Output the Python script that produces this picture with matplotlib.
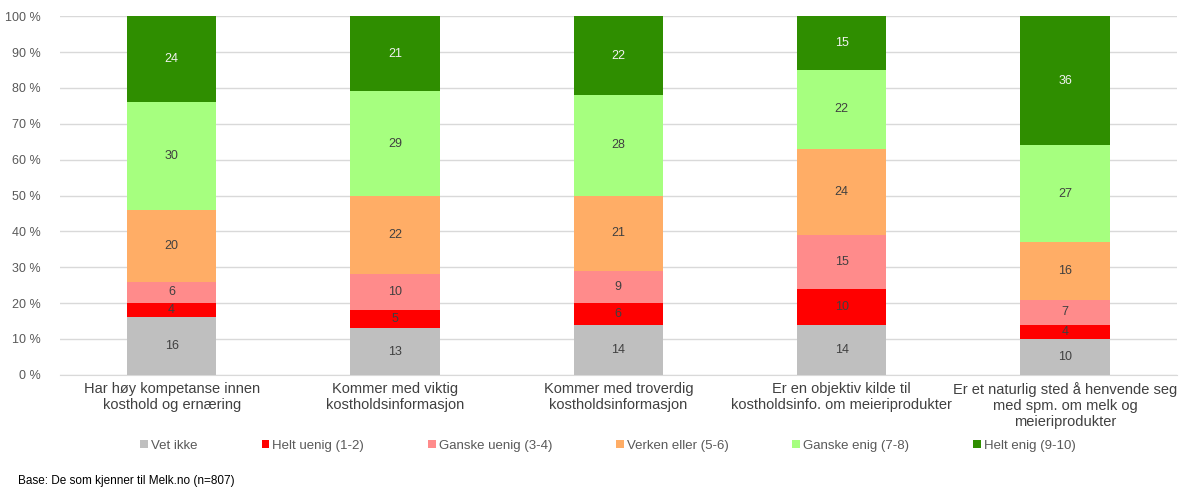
import numpy as np
import matplotlib.pyplot as plt
from matplotlib.patches import Patch

plt.rcParams['font.family'] = ['Liberation Sans', 'DejaVu Sans']

categories = [
    'Har høy kompetanse innen\nkosthold og ernæring',
    'Kommer med viktig\nkostholdsinformasjon',
    'Kommer med troverdig\nkostholdsinformasjon',
    'Er en objektiv kilde til\nkostholdsinfo. om meieriprodukter',
    'Er et naturlig sted å henvende seg\nmed spm. om melk og\nmeieriprodukter',
]
series_names = ['Vet ikke', 'Helt uenig (1-2)', 'Ganske uenig (3-4)',
                'Verken eller (5-6)', 'Ganske enig (7-8)', 'Helt enig (9-10)']
vet_ikke = [16, 13, 14, 14, 10]
helt_uenig = [4, 5, 6, 10, 4]
ganske_uenig = [6, 10, 9, 15, 7]
verken_eller = [20, 22, 21, 24, 16]
ganske_enig = [30, 29, 28, 22, 27]
helt_enig = [24, 21, 22, 15, 36]

colors = ['#BFBFBF', '#FF0000', '#FF8B8B', '#FFAD66', '#A6FF7F', '#2F8E00']

fig = plt.figure(figsize=(11.85, 4.9), dpi=100)
ax = fig.add_axes([0.0506, 0.235, 0.9424, 0.732])

x = np.arange(len(categories))
bottom = np.zeros(len(categories))
for name, vals, col in zip(series_names,
                           [vet_ikke, helt_uenig, ganske_uenig, verken_eller, ganske_enig, helt_enig],
                           colors):
    bars = ax.bar(x, vals, width=0.4, bottom=bottom, color=col, label=name, zorder=3)
    txt_col = '#F2F2F2' if col == colors[-1] else '#404040'
    ax.bar_label(bars, labels=[str(v) for v in vals], label_type='center',
                 fontsize=9, color=txt_col)
    bottom += np.array(vals)

ax.set_xlim(-0.5, 4.5)
ax.set_ylim(0, 100)
ax.set_yticks(np.arange(0, 101, 10))
ax.set_yticklabels([f'{v} %' for v in range(0, 101, 10)], fontsize=9, color='#595959')
ax.set_xticks(x)
ax.set_xticklabels(categories, fontsize=10.5, color='#404040', linespacing=1.2)
ax.tick_params(axis='both', length=0)
ax.tick_params(axis='y', pad=14)
ax.tick_params(axis='x', pad=5)
ax.grid(axis='y', color='#D9D9D9', linewidth=1, zorder=0)
for s in ['top', 'right', 'left']:
    ax.spines[s].set_visible(False)
ax.spines['bottom'].set_color('#D9D9D9')

handles = [Patch(facecolor=c, edgecolor='none') for c in colors]
fig.legend(handles, series_names, loc='center', bbox_to_anchor=(0.513, 0.09), ncol=6,
           frameon=False, fontsize=9.5, handlelength=0.6, handleheight=0.6,
           handletextpad=0.2, columnspacing=4.86, labelcolor='#595959')

fig.text(0.015, 0.018, 'Base: De som kjenner til Melk.no (n=807)', fontsize=8.5,
         color='#000000', va='center')

fig.savefig('out.png', dpi=100)
